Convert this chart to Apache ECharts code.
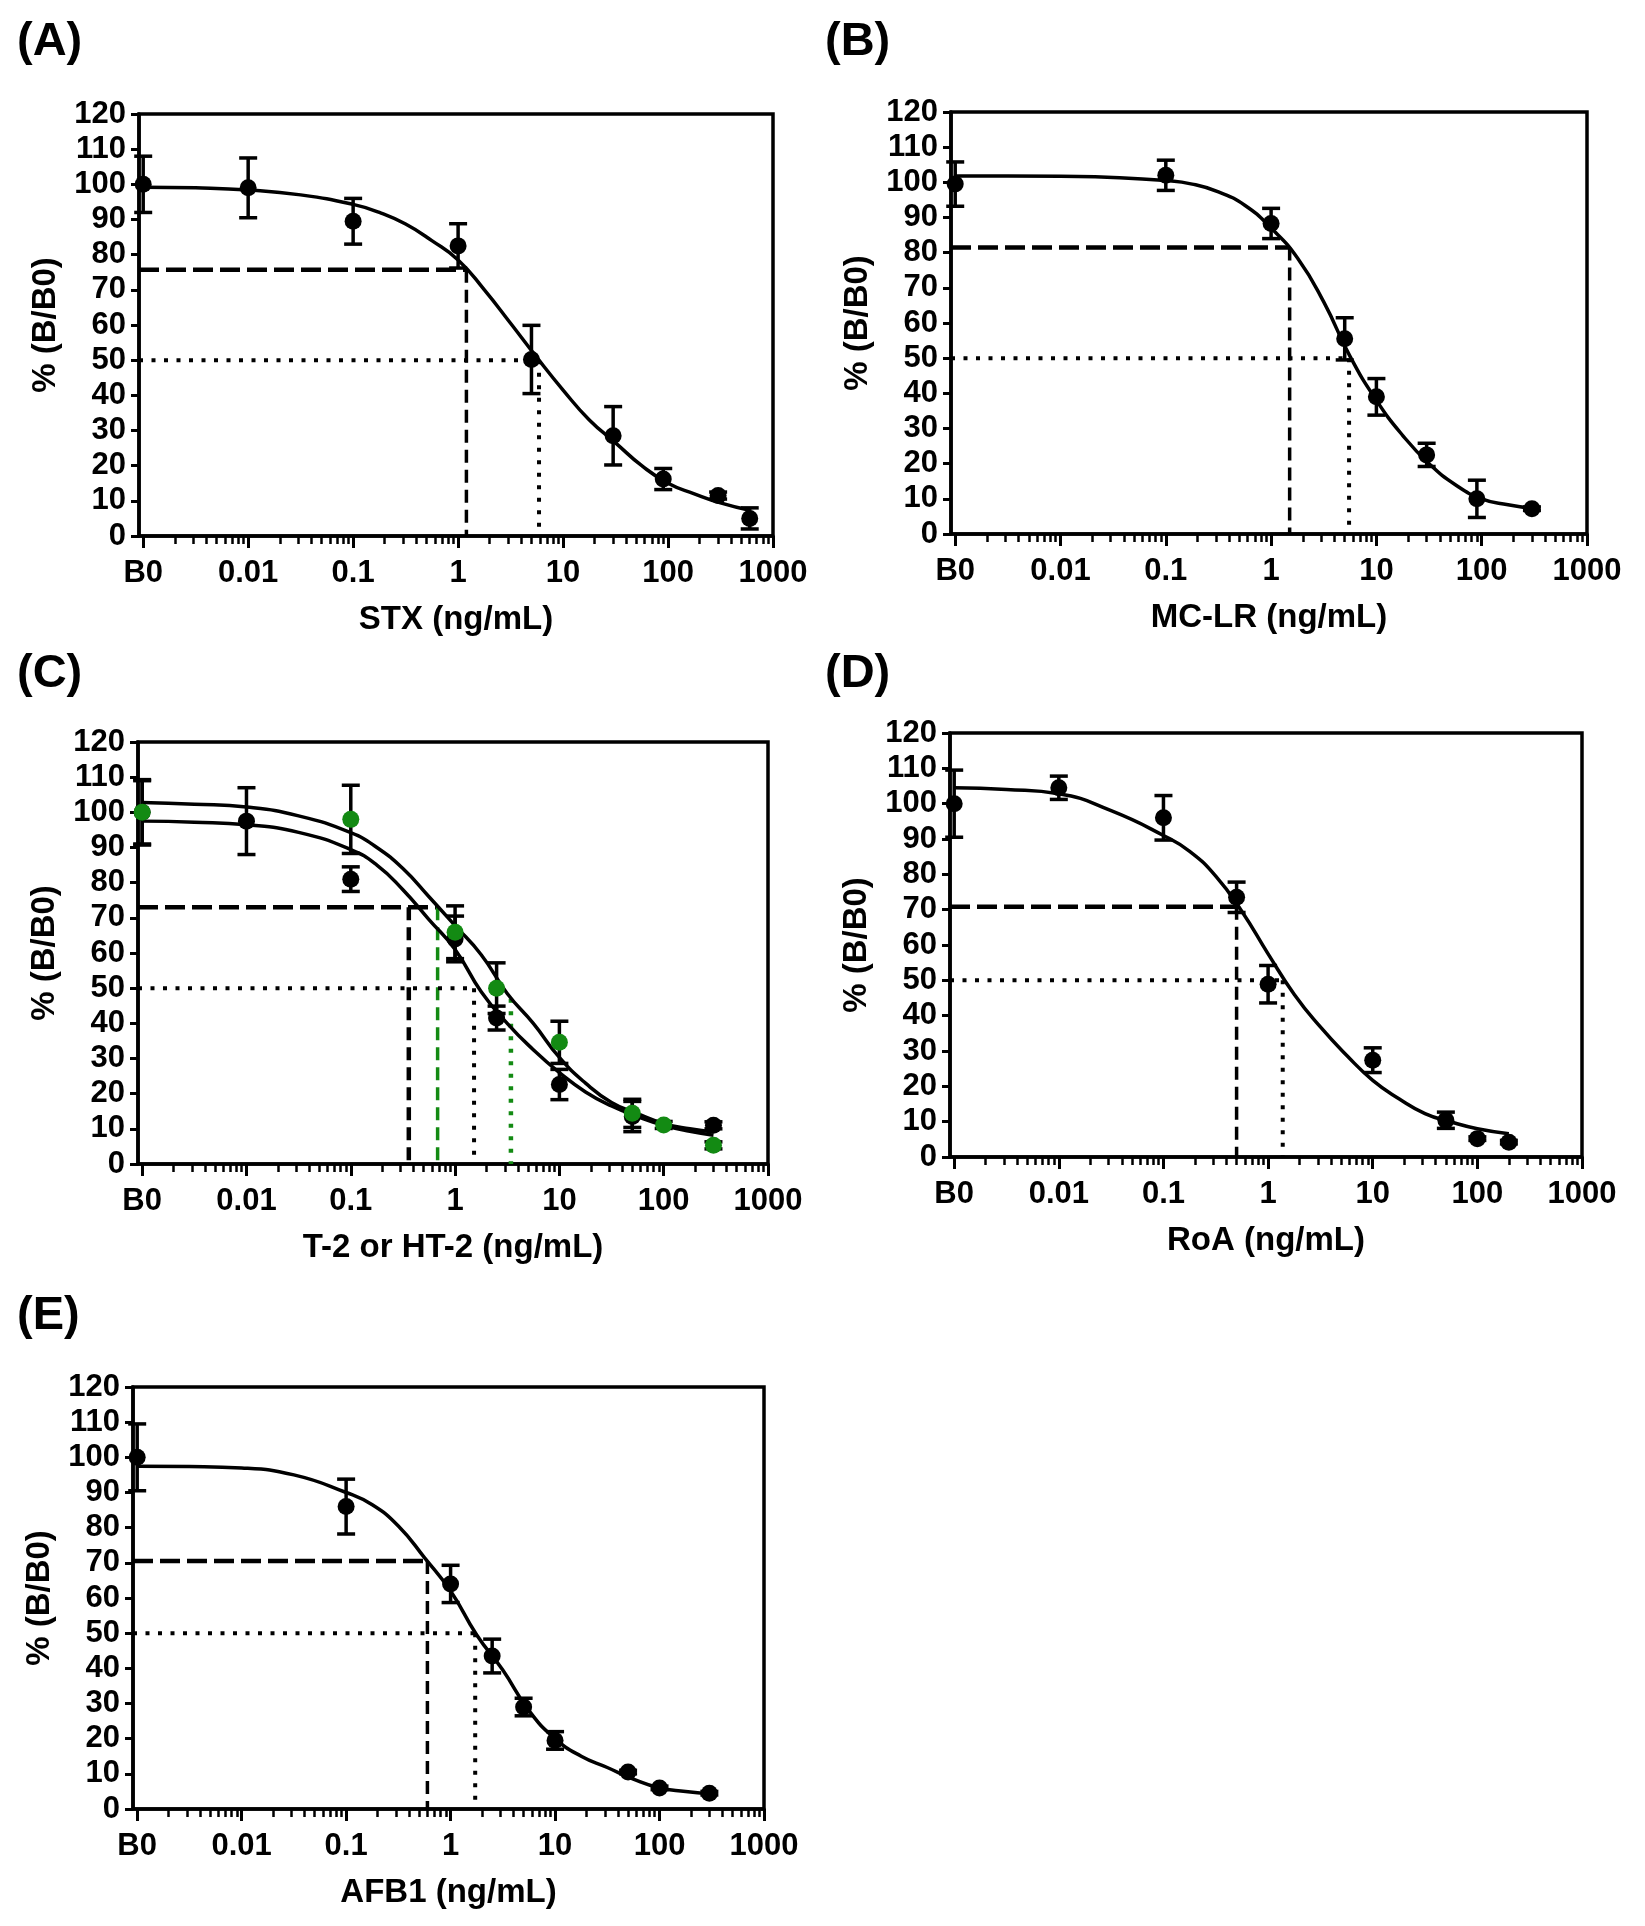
<!DOCTYPE html>
<html>
<head>
<meta charset="utf-8">
<script src="https://cdn.jsdelivr.net/npm/echarts@6/dist/echarts.min.js"></script>
<style>
html, body {margin: 0; padding: 0; background: #fff;}
#chart {width: 1645px; height: 1926px;}
</style>
</head>
<body>
<div id="chart"></div>
<script>
// x轴刻度 (B0 = 空白样本, 画在 0.001 处)
var xTickVals = [0.001, 0.01, 0.1, 1, 10, 100, 1000];
var xTickText = ['B0', '0.01', '0.1', '1', '10', '100', '1000'];

// (A) STX
var stxX = [0.001, 0.01, 0.1, 1, 5, 30, 90, 300, 600];
var stxY = [100, 99, 89.5, 82.5, 50.2, 28.5, 16.2, 11.5, 5];
var stxSd = [8, 8.5, 6.5, 6.3, 9.7, 8.3, 3, 1, 3];
var stxFitX = [0.001, 0.00316, 0.01, 0.0316, 0.1, 0.178, 0.316, 0.562, 1, 1.78, 3.16, 5.62, 10, 17.8, 31.6, 56.2, 100, 178, 316, 600];
var stxFitY = [99.2, 99, 98.4, 97, 94.3, 92, 88.7, 84, 78.5, 70, 60.5, 50.8, 41.5, 33, 26.5, 20, 15, 12, 9.4, 7.3];
var stxIc = [1.2, 75.7];
var stxIc50 = [5.9, 50];

// (B) MC-LR
var mcX = [0.001, 0.1, 1, 5, 10, 30, 90, 300];
var mcY = [99.5, 102, 88.3, 55.5, 39, 22.5, 10, 7.2];
var mcSd = [6.3, 4.3, 4.3, 6, 5.2, 3.3, 5.3, 0.5];
var mcFitX = [0.001, 0.00316, 0.01, 0.0316, 0.1, 0.178, 0.316, 0.562, 1, 1.78, 3.16, 5.62, 10, 17.8, 31.6, 56.2, 100, 178, 300];
var mcFitY = [101.8, 101.8, 101.7, 101.4, 100.5, 99.5, 97.3, 93.5, 87, 78.5, 66, 50.5, 38, 28, 20, 14, 10, 8.3, 7.3];
var mcIc = [1.5, 81.5];
var mcIc50 = [5.5, 50];

// (C) T-2 (黑) / HT-2 (绿)
var t2X = [0.001, 0.01, 0.1, 1, 2.5, 10, 50, 300];
var t2Y = [100, 97.5, 81, 64, 41.5, 22.6, 13.5, 11];
var t2Sd = [9.3, 9.5, 3.5, 6.5, 3.4, 4.3, 4.3, 1];
var t2FitX = [0.001, 0.00316, 0.01, 0.0316, 0.1, 0.178, 0.316, 0.562, 1, 1.78, 3.16, 5.62, 10, 17.8, 31.6, 56.2, 100, 178, 300];
var t2FitY = [97.5, 97.2, 96.5, 94.3, 89.4, 85, 78, 69.5, 61, 49, 40, 32.5, 26, 20.5, 16.5, 13.5, 11, 9.3, 8.2];
var ht2X = [0.001, 0.1, 1, 2.5, 10, 50, 100, 300];
var ht2Y = [100, 98, 65.9, 50, 34.6, 14.4, 11.1, 5.3];
var ht2Sd = [9, 9.7, 7.5, 7.2, 6, 4, 1, 1];
var ht2FitX = [0.001, 0.00316, 0.01, 0.0316, 0.1, 0.178, 0.316, 0.562, 1, 1.78, 3.16, 5.62, 10, 17.8, 31.6, 56.2, 100, 178, 300];
var ht2FitY = [102.8, 102.3, 101.5, 99, 94.2, 90, 84, 76, 67.8, 59.5, 48.5, 40, 30.3, 23, 17.5, 14.3, 11.5, 10, 9.1];
var t2Ic = [0.36, 73];
var ht2Ic = [0.68, 73];
var t2Ic50 = [1.52, 50];
var ht2Ic50 = [3.43, 47];

// (D) RoA
var roaX = [0.001, 0.01, 0.1, 0.5, 1, 10, 50, 100, 200];
var roaY = [100, 104.5, 96, 73.5, 48.9, 27.4, 10.4, 5.2, 4.2];
var roaSd = [9.5, 3.3, 6.3, 4.3, 5.3, 3.5, 2.3, 0.5, 0.5];
var roaFitX = [0.001, 0.00316, 0.01, 0.0316, 0.1, 0.178, 0.316, 0.562, 1, 1.78, 3.16, 5.62, 10, 17.8, 31.6, 56.2, 100, 200];
var roaFitY = [104.5, 104, 102.8, 98, 91, 86.5, 79.5, 69.5, 57.5, 46, 36.8, 28.8, 21.7, 16.5, 12.3, 9.9, 8, 6.6];
var roaIc = [0.5, 70.8];
var roaIc50 = [1.38, 50];

// (E) AFB1
var afbX = [0.001, 0.1, 1, 2.5, 5, 10, 50, 100, 300];
var afbY = [100, 86, 64, 43.5, 29, 19.5, 10.5, 6, 4.5];
var afbSd = [9.5, 7.8, 5.3, 4.8, 2.5, 2.5, 0.5, 0.5, 0.5];
var afbFitX = [0.001, 0.00316, 0.01, 0.0316, 0.1, 0.178, 0.316, 0.562, 1, 1.78, 3.16, 5.62, 10, 17.8, 31.6, 56.2, 100, 178, 300];
var afbFitY = [97.5, 97.4, 97, 95, 90, 86.5, 80.5, 71.5, 62, 49.5, 39.5, 28, 20, 15, 11.8, 8.5, 6, 5, 4.3];
var afbIc = [0.6, 70.5];
var afbIc50 = [1.72, 50];

var FONT = '"Liberation Sans", Arial, sans-serif';
var GREEN = '#138a13';
var xMin = Math.pow(10, -3.04);
var xMax = 1000;

// 次刻度 2..9 x 10^k
var minorTicks = [];
for (var k = -3; k < 3; k++) {
    for (var m = 2; m < 10; m++) {
        minorTicks.push(m * Math.pow(10, k));
    }
}

function zip(xs, ys, sds) {
    return xs.map(function (x, i) {
        return sds ? [x, ys[i], sds[i]] : [x, ys[i]];
    });
}

var option = {
    backgroundColor: '#fff',
    animation: false,
    title: [],
    grid: [],
    xAxis: [],
    yAxis: [],
    series: []
};

//添加一个子图
function addPanel(label, labelPos, rect, xname, sets, refs) {
    var gi = option.grid.length;
    option.title.push({
        text: label, left: labelPos[0], top: labelPos[1],
        textStyle: {fontFamily: FONT, fontWeight: 'bold', fontSize: 47, color: '#000'}
    });
    option.grid.push({
        left: rect[0], top: rect[1], width: rect[2], height: rect[3],
        show: true, borderColor: '#000', borderWidth: 3.5, backgroundColor: 'transparent'
    });
    var xi = option.xAxis.length;
    option.xAxis.push({
        gridIndex: gi, type: 'log', logBase: 10, min: xMin, max: xMax, position: 'bottom',
        axisLine: {show: true, onZero: false, lineStyle: {color: '#000', width: 3.5}},
        axisTick: {show: true, customValues: xTickVals, length: 12, lineStyle: {color: '#000', width: 3}},
        axisLabel: {
            customValues: xTickVals, margin: 22, color: '#000',
            fontFamily: FONT, fontWeight: 'bold', fontSize: 31,
            formatter: function (v) {
                var best = 0;
                for (var i = 0; i < xTickVals.length; i++) {
                    if (Math.abs(Math.log10(v) - Math.log10(xTickVals[i])) < Math.abs(Math.log10(v) - Math.log10(xTickVals[best]))) best = i;
                }
                return xTickText[best];
            }
        },
        splitLine: {show: false},
        name: xname, nameLocation: 'middle', nameGap: 67,
        nameTextStyle: {fontFamily: FONT, fontWeight: 'bold', fontSize: 33, color: '#000'}
    });
    option.xAxis.push({
        gridIndex: gi, type: 'log', logBase: 10, min: xMin, max: xMax, position: 'bottom',
        axisLine: {show: false, onZero: false},
        axisTick: {show: true, customValues: minorTicks, length: 8, lineStyle: {color: '#000', width: 2.5}},
        axisLabel: {show: false},
        splitLine: {show: false}
    });
    var yi = option.yAxis.length;
    option.yAxis.push({
        gridIndex: gi, type: 'value', min: 0, max: 120, interval: 10,
        axisLine: {show: true, onZero: false, lineStyle: {color: '#000', width: 3.5}},
        axisTick: {show: true, length: 8, lineStyle: {color: '#000', width: 3}},
        axisLabel: {margin: 13, color: '#000', fontFamily: FONT, fontWeight: 'bold', fontSize: 31},
        splitLine: {show: false},
        name: '% (B/B0)', nameLocation: 'middle', nameGap: 77, nameRotate: 90,
        nameTextStyle: {fontFamily: FONT, fontWeight: 'bold', fontSize: 33, color: '#000'}
    });

    // 参考线 (虚线 / 点线)
    refs.forEach(function (r) {
        option.series.push({
            type: 'line', xAxisIndex: xi, yAxisIndex: yi, silent: true, z: 2,
            symbol: 'none', data: r.pts,
            lineStyle: {color: r.color || '#000', width: r.width, type: r.dash, cap: 'butt'}
        });
    });
    // 拟合曲线
    sets.forEach(function (s) {
        option.series.push({
            type: 'line', xAxisIndex: xi, yAxisIndex: yi, silent: true, z: 3,
            symbol: 'none', smooth: 0.5,
            data: zip(s.fitX, s.fitY),
            lineStyle: {color: '#000', width: 3.5}
        });
    });
    // 误差棒 + 数据点
    sets.forEach(function (s) {
        option.series.push({
            type: 'custom', xAxisIndex: xi, yAxisIndex: yi, silent: true, z: 4,
            data: zip(s.x, s.y, s.sd),
            encode: {x: 0, y: 1},
            renderItem: function (params, api) {
                var x = api.value(0), y = api.value(1), sd = api.value(2);
                var top = api.coord([x, y + sd]);
                var bot = api.coord([x, y - sd]);
                var hw = 9;
                var st = {stroke: '#000', lineWidth: 3.5};
                return {
                    type: 'group',
                    children: [
                        {type: 'line', shape: {x1: top[0], y1: top[1], x2: bot[0], y2: bot[1]}, style: st},
                        {type: 'line', shape: {x1: top[0] - hw, y1: top[1], x2: top[0] + hw, y2: top[1]}, style: st},
                        {type: 'line', shape: {x1: bot[0] - hw, y1: bot[1], x2: bot[0] + hw, y2: bot[1]}, style: st}
                    ]
                };
            }
        });
        option.series.push({
            type: 'scatter', xAxisIndex: xi, yAxisIndex: yi, silent: true, z: 5,
            symbol: 'circle', symbolSize: 17,
            itemStyle: {color: s.color || '#000', opacity: 1},
            data: zip(s.x, s.y)
        });
    });
}

var DASH_H = [20, 7], DASH_V = [13, 7], DOT = [4, 8.5];

function icRefs(ic, ic50, color) {
    return [
        {pts: [[xMin, ic[1]], [ic[0], ic[1]]], dash: DASH_H, width: 4.5, color: color},
        {pts: [[ic[0], ic[1]], [ic[0], 0]], dash: DASH_V, width: 3.5, color: color},
        {pts: [[xMin, ic50[1]], [ic50[0], ic50[1]]], dash: DOT, width: 4, color: color},
        {pts: [[ic50[0], ic50[1]], [ic50[0], 0]], dash: DOT, width: 4, color: color}
    ];
}

addPanel('(A)', [12, 14], [139, 114, 634, 422], 'STX (ng/mL)',
    [{x: stxX, y: stxY, sd: stxSd, fitX: stxFitX, fitY: stxFitY}],
    icRefs(stxIc, stxIc50));

addPanel('(B)', [820, 14], [951, 112, 636, 422], 'MC-LR (ng/mL)',
    [{x: mcX, y: mcY, sd: mcSd, fitX: mcFitX, fitY: mcFitY}],
    icRefs(mcIc, mcIc50));

addPanel('(C)', [12, 646], [138, 742, 630, 422], 'T-2 or HT-2 (ng/mL)',
    [{x: t2X, y: t2Y, sd: t2Sd, fitX: t2FitX, fitY: t2FitY},
     {x: ht2X, y: ht2Y, sd: ht2Sd, fitX: ht2FitX, fitY: ht2FitY, color: GREEN}],
    [
        {pts: [[xMin, t2Ic[1]], [ht2Ic[0], t2Ic[1]]], dash: DASH_H, width: 4.5},
        {pts: [[t2Ic[0], t2Ic[1]], [t2Ic[0], 0]], dash: DASH_V, width: 4.5},
        {pts: [[ht2Ic[0], ht2Ic[1]], [ht2Ic[0], 0]], dash: DASH_V, width: 3.5, color: GREEN},
        {pts: [[xMin, t2Ic50[1]], [t2Ic50[0], t2Ic50[1]]], dash: DOT, width: 4},
        {pts: [[t2Ic50[0], t2Ic50[1]], [t2Ic50[0], 0]], dash: DOT, width: 4},
        {pts: [[ht2Ic50[0], ht2Ic50[1]], [ht2Ic50[0], 0]], dash: DOT, width: 4.5, color: GREEN}
    ]);

addPanel('(D)', [820, 646], [950, 733, 632, 424], 'RoA (ng/mL)',
    [{x: roaX, y: roaY, sd: roaSd, fitX: roaFitX, fitY: roaFitY}],
    icRefs(roaIc, roaIc50));

addPanel('(E)', [12, 1288], [133, 1387, 631, 422], 'AFB1 (ng/mL)',
    [{x: afbX, y: afbY, sd: afbSd, fitX: afbFitX, fitY: afbFitY}],
    icRefs(afbIc, afbIc50));

var chart = echarts.init(document.getElementById('chart'), null, {renderer: 'canvas'});
chart.setOption(option);
</script>
</body>
</html>
